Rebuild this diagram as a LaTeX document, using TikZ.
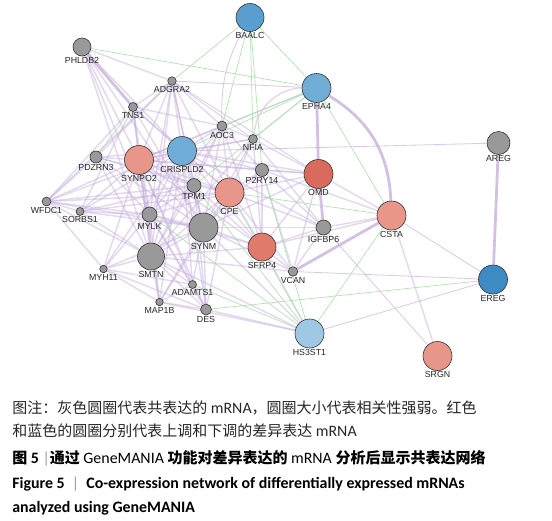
\documentclass[tikz,border=0pt]{standalone}
\usepackage{fontspec}
\usepackage{xcolor}
\setmainfont{Carlito}[Scale=1.06]
\newfontfamily\cjk{Noto Sans CJK SC}
\newfontfamily\genfont{Liberation Sans}
\usetikzlibrary{backgrounds}

\begin{document}
\begin{tikzpicture}[x=1pt, y=-1pt,
  every node/.style={circle, draw=black!80, line width=0.6pt, inner sep=0pt, fill=gris},
  every label/.style={rectangle, draw=none, fill=none, inner sep=0.6pt, font=\genfont\fontsize{8.8}{9}\selectfont, text=black!85},
  texto/.style={rectangle, draw=none, fill=none, inner sep=0pt, anchor=base west, font=\fontsize{15}{18}\selectfont},
  li/.style={draw=lila, line width=1.5pt, draw opacity=0.45},
  lig/.style={draw=lila, line width=2.8pt, draw opacity=0.75},
  lif/.style={draw=lila, line width=0.8pt, draw opacity=0.65},
  ve/.style={draw=verde, line width=0.6pt}]
  \definecolor{gris}{RGB}{153,153,153}
  \definecolor{azulA}{RGB}{90,158,208}
  \definecolor{azulB}{RGB}{112,173,214}
  \definecolor{azulC}{RGB}{158,200,228}
  \definecolor{azulD}{RGB}{62,139,196}
  \definecolor{rosa}{RGB}{232,150,138}
  \definecolor{rojo}{RGB}{218,106,92}
  \definecolor{rojoB}{RGB}{224,122,106}
  \definecolor{lila}{RGB}{196,172,218}
  \definecolor{verde}{RGB}{168,224,168}

  \useasboundingbox (0,0) rectangle (552,520);

  % genes
  \node[minimum size=28pt, fill=azulA, label=below:BAALC]    (baalc)    at (250,17.5) {};
  \node[minimum size=18pt, label=below:PHLDB2]               (phldb2)   at (82,47)    {};
  \node[minimum size=8.5pt, label=below:ADGRA2]              (adgra2)   at (172,81)   {};
  \node[minimum size=9pt, label=below:TNS1]                  (tns1)     at (133,107)  {};
  \node[minimum size=29pt, fill=azulB, label=below:EPHA4]    (epha4)    at (316.5,88) {};
  \node[minimum size=23pt, label=below:AREG]                 (areg)     at (498.5,143) {};
  \node[minimum size=10pt, label=below:AOC3]                 (aoc3)     at (222,126)  {};
  \node[minimum size=9pt, label=below:NFIA]                  (nfia)     at (253,139)  {};
  \node[minimum size=12pt, label=below:PDZRN3]               (pdzrn3)   at (96,157)   {};
  \node[minimum size=29pt, fill=rosa, label=below:SYNPO2]    (synpo2)   at (139,160)  {};
  \node[minimum size=29pt, fill=azulB, label=below:CRISPLD2] (crispld2) at (182,151)  {};
  \node[minimum size=13pt, label=below:P2RY14]               (p2ry14)   at (262,170)  {};
  \node[minimum size=29pt, fill=rojo, label=below:OMD]       (omd)      at (318.5,174) {};
  \node[minimum size=14pt, label=below:TPM1]                 (tpm1)     at (194,185.5) {};
  \node[minimum size=29pt, fill=rosa, label=below:CPE]       (cpe)      at (229.5,192.5) {};
  \node[minimum size=9pt, label=below:WFDC1]                 (wfdc1)    at (46.5,201.5) {};
  \node[minimum size=8pt, label=below:SORBS1]                (sorbs1)   at (80,211.5)  {};
  \node[minimum size=15pt, label=below:MYLK]                 (mylk)     at (149.5,214.5) {};
  \node[minimum size=29pt, label=below:SYNM]                 (synm)     at (203.5,227.5) {};
  \node[minimum size=28pt, fill=rojoB, label=below:SFRP4]    (sfrp4)    at (262,247)  {};
  \node[minimum size=15pt, label=below:IGFBP6]               (igfbp6)   at (323.5,227.5) {};
  \node[minimum size=29pt, fill=rosa, label=below:CSTA]      (csta)     at (391.5,215.5) {};
  \node[minimum size=7.5pt, label=below:MYH11]               (myh11)    at (103.5,269) {};
  \node[minimum size=27pt, label=below:SMTN]                 (smtn)     at (151,256.5) {};
  \node[minimum size=8pt, label=below:ADAMTS1]               (adamts1)  at (192.5,284.5) {};
  \node[minimum size=9.5pt, label=below:VCAN]                (vcan)     at (293,271.5) {};
  \node[minimum size=29pt, fill=azulD, label=below:EREG]     (ereg)     at (493,279.5) {};
  \node[minimum size=7.5pt, label=below:MAP1B]               (map1b)    at (159.5,302) {};
  \node[minimum size=11pt, label=below:DES]                  (des)      at (206,309.5) {};
  \node[minimum size=29pt, fill=azulC, label=below:HS3ST1]   (hs3st1)   at (309.5,333.5) {};
  \node[minimum size=29pt, fill=rosa, label=below:SRGN]      (srgn)     at (437.5,356) {};

  \begin{scope}[on background layer]
    % co-expresion (lila)
    \draw[lig] (phldb2) edge (tns1);
    \draw[li] (phldb2) edge (synpo2) edge (crispld2) edge (mylk) edge (synm) edge (smtn) edge (adgra2);
    \draw[lif] (baalc) edge[bend right=15] (aoc3);
    \draw[li] (adgra2) edge (synpo2) edge (crispld2) edge (tpm1) edge (synm) edge (smtn) edge (mylk) edge (pdzrn3) edge (wfdc1) edge (aoc3) edge (cpe) edge (tns1);
    \draw[lif] (adgra2) edge (epha4) edge (nfia) edge (omd);
    \draw[li] (tns1) edge (synpo2) edge (crispld2) edge (mylk) edge (smtn) edge (synm) edge (cpe) edge (wfdc1) edge (sorbs1) edge (aoc3);
    \draw[li] (pdzrn3) edge (synpo2) edge (crispld2) edge (mylk) edge (smtn) edge (synm) edge (cpe) edge (tpm1) edge (wfdc1);
    \draw[li] (synpo2) edge (crispld2) edge (mylk) edge (smtn) edge (synm) edge (tpm1) edge (cpe) edge (myh11) edge (wfdc1) edge (sorbs1) edge (aoc3) edge (nfia) edge (p2ry14) edge (map1b) edge (des) edge (adamts1) edge (omd) edge (sfrp4);
    \draw[li] (crispld2) edge (tpm1) edge (cpe) edge (synm) edge (smtn) edge (mylk) edge (aoc3) edge (nfia) edge (p2ry14) edge (omd) edge (sfrp4) edge (des) edge (adamts1) edge (map1b) edge (wfdc1) edge (sorbs1) edge (myh11) edge (igfbp6);
    \draw[lif] (crispld2) edge (areg);
    \draw[li] (aoc3) edge (cpe) edge (synm) edge (smtn) edge (nfia) edge (p2ry14) edge (sfrp4) edge (mylk) edge (tpm1);
    \draw[li] (nfia) edge (cpe) edge (synm) edge (smtn) edge (sfrp4) edge (omd) edge (igfbp6);
    \draw[li] (p2ry14) edge (cpe) edge (omd) edge (synm) edge (sfrp4) edge (igfbp6) edge (vcan) edge (csta);
    \draw[li] (tpm1) edge (cpe) edge (synm) edge (smtn) edge (mylk) edge (sfrp4) edge (des) edge (wfdc1) edge (sorbs1);
    \draw[li] (cpe) edge (synm) edge (smtn) edge (mylk) edge (sfrp4) edge (omd) edge (igfbp6) edge (vcan) edge (des) edge (map1b);
    \draw[li] (wfdc1) edge (sorbs1) edge (mylk) edge (smtn) edge (synm) edge (myh11) edge (cpe);
    \draw[li] (sorbs1) edge (mylk) edge (smtn) edge (synm) edge (cpe);
    \draw[li] (mylk) edge (smtn) edge (synm) edge (myh11) edge (map1b) edge (adamts1) edge (des) edge (sfrp4);
    \draw[li] (myh11) edge (smtn) edge (map1b) edge (des) edge (synm) edge (adamts1);
    \draw[li] (synm) edge (smtn) edge (sfrp4) edge (des) edge (adamts1) edge (map1b) edge (vcan) edge (omd) edge (igfbp6) edge (hs3st1);
    \draw[li] (smtn) edge (map1b) edge (adamts1) edge (des) edge (sfrp4) edge (hs3st1) edge (vcan);
    \draw[li] (map1b) edge (des) edge (hs3st1) edge (adamts1);
    \draw[li] (adamts1) edge (des);
    \draw[li] (des) edge (hs3st1);
    \draw[li] (sfrp4) edge (omd) edge (igfbp6) edge (vcan) edge (csta) edge (hs3st1);
    \draw[lig] (omd) edge (igfbp6) edge (epha4);
    \draw[li] (omd) edge (csta) edge (vcan);
    \draw[li] (igfbp6) edge (csta) edge (vcan);
    \draw[lif] (igfbp6) edge (srgn);
    \draw[lig] (vcan) edge (csta);
    \draw[lif] (vcan) edge (ereg) (hs3st1) edge (ereg) (csta) edge (ereg);
    \draw[li] (csta) edge (srgn);
    \draw[lig] (epha4) edge[bend left=28] (csta);
    \draw[li] (epha4) edge[bend right=40] (nfia) edge (synpo2);
    \draw[lig] (areg) edge (ereg);
    % co-localizacion (verde)
    \draw[ve] (baalc) edge (adgra2) edge (nfia) edge (p2ry14) edge (epha4) edge (aoc3);
    \draw[ve] (phldb2) edge (epha4);
    \draw[ve] (epha4) edge (aoc3) edge (crispld2) edge (nfia) edge (csta) edge (tpm1);
    \draw[ve] (hs3st1) edge (csta) edge (adamts1) edge (cpe) edge (p2ry14) edge (mylk) edge (tpm1);
    \draw[ve] (des) edge (ereg) (cpe) edge (csta) (tns1) edge (pdzrn3);
  \end{scope}

  % pie de figura
  \node[texto, text=black!85] (cap1) at (12,413.5) {{\cjk 图注：灰色圆圈代表共表达的} mRNA{\cjk ，圆圈大小代表相关性强弱。红色}};
  \node[texto, text=black!85] (cap2) at (12,436) {{\cjk 和蓝色的圆圈分别代表上调和下调的差异表达} mRNA};
  \node[texto] (cap3) at (12,463) {{\cjk\bfseries 图} \textbf{5} {\color{black!40}|}{\cjk\bfseries 通过} GeneMANIA {\cjk\bfseries 功能对差异表达的} mRNA {\cjk\bfseries 分析后显示共表达网络}};
  \node[texto, font=\fontsize{15}{18}\selectfont\bfseries] (cap4) at (12,488) {Figure 5 \ {\color{black!40}\mdseries|}\ \ Co-expression network of differentially expressed mRNAs};
  \node[texto, font=\fontsize{15}{18}\selectfont\bfseries] (cap5) at (12,512) {analyzed using GeneMANIA};
\end{tikzpicture}
\end{document}
